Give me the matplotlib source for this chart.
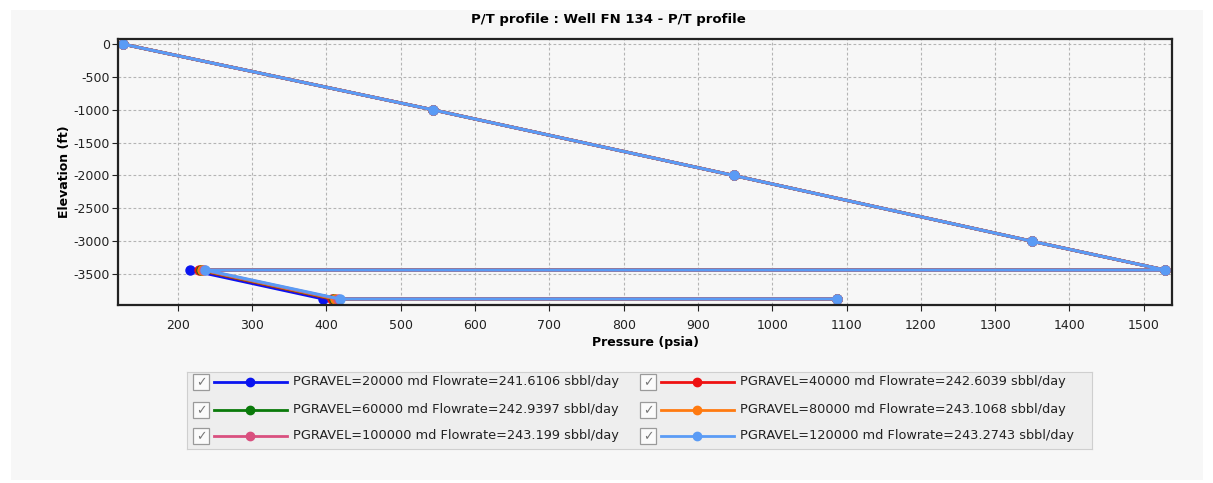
import matplotlib.pyplot as plt
from matplotlib.patches import Rectangle

plt.rcParams['axes.unicode_minus'] = False

# data
depth = [0, -1000, -2000, -3000, -3440, -3440, -3880, -3880]
p_common = [126, 543, 948, 1349, 1529]
p_end = 1087

labels = ['PGRAVEL=20000 md Flowrate=241.6106 sbbl/day',
          'PGRAVEL=40000 md Flowrate=242.6039 sbbl/day',
          'PGRAVEL=60000 md Flowrate=242.9397 sbbl/day',
          'PGRAVEL=80000 md Flowrate=243.1068 sbbl/day',
          'PGRAVEL=100000 md Flowrate=243.199 sbbl/day',
          'PGRAVEL=120000 md Flowrate=243.2743 sbbl/day']
p_top_left = [217, 228, 231, 233, 235, 237]
p_bottom_left = [396, 407, 410, 412, 415, 418]
colors = ['#0a14f0', '#ee1111', '#0a7a0a', '#ff7a10', '#d9507f', '#5a9bf5']

fig = plt.figure(figsize=(12.13, 4.83), dpi=100)
W, H = 1213.0, 483.0

# grey panel behind everything
fig.patches.append(Rectangle((11 / W, 1 - 480 / H), 1192 / W, 470 / H,
                             transform=fig.transFigure, facecolor='#f7f7f7',
                             edgecolor='none', zorder=-10))

ax = fig.add_axes([118 / W, 1 - 305 / H, 1054 / W, 266.5 / H])
ax.set_facecolor('#f7f7f7')

for i in range(len(labels)):
    px = p_common + [p_top_left[i], p_bottom_left[i], p_end]
    ax.plot(px, depth, color=colors[i], lw=2.2, marker='o', markersize=6.5,
            solid_capstyle='round')

ax.set_xlim(119.5, 1538)
ax.set_ylim(-3972, 85)
ax.set_xticks(range(200, 1501, 100))
ax.set_yticks(range(-3500, 1, 500))
ax.grid(True, ls=(0, (2.5, 2)), color='#b4b4b4', lw=0.8)
ax.set_axisbelow(True)
for s in ax.spines.values():
    s.set_linewidth(1.6)
    s.set_color('#222222')
ax.tick_params(labelsize=9, colors='#222222', length=4, width=0.8,
               direction='out', pad=2)
ax.tick_params(axis='x', pad=6)
ax.set_xlabel('Pressure (psia)', fontsize=9, fontweight='bold', labelpad=3)
ax.set_ylabel('Elevation (ft)', fontsize=9, fontweight='bold', labelpad=2)
fig.text(608 / W, 1 - 19 / H, 'P/T profile : Well FN 134 - P/T profile',
         ha='center', va='center', fontsize=9.5, fontweight='bold')

# legend panel with check boxes
lg = fig.add_axes([187 / W, 1 - 449 / H, 905 / W, 77 / H])
lg.set_xlim(0, 905)
lg.set_ylim(77, 0)
lg.set_facecolor('#eeeeee')
for s in lg.spines.values():
    s.set_color('#cfcfcf')
lg.set_xticks([])
lg.set_yticks([])
rows = [10, 38, 64]
cols = [6, 453]
for i, lab in enumerate(labels):
    cx = cols[i % 2]
    cy = rows[i // 2]
    lg.add_patch(Rectangle((cx, cy - 8), 16, 16, facecolor='#fbfbfb',
                           edgecolor='#9a9a9a', lw=0.9))
    lg.text(cx + 8, cy + 1, '\u2713', ha='center', va='center',
            fontsize=9, color='#777777')
    lg.plot([cx + 21, cx + 94], [cy, cy], color=colors[i], lw=2.0)
    lg.plot([cx + 57], [cy], color=colors[i], marker='o', markersize=6)
    lg.text(cx + 100, cy, lab, ha='left', va='center', fontsize=9.3,
            color='#222222')

fig.savefig('out.png', dpi=100, facecolor='white')
